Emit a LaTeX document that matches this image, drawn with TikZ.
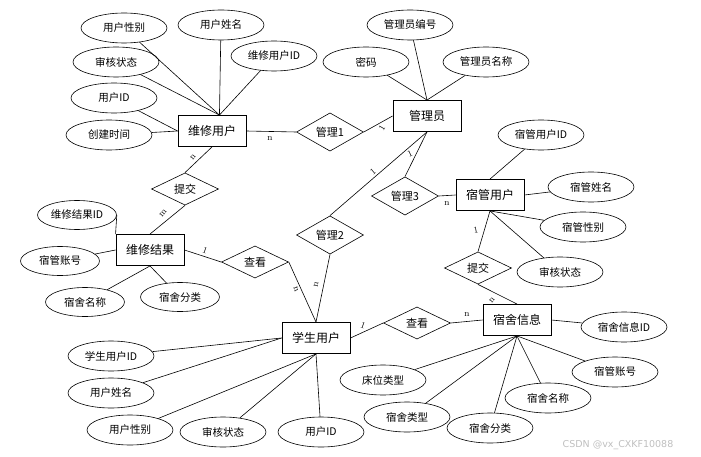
\documentclass[tikz,border=0pt]{standalone}
\usepackage{fontspec}
\newfontfamily\cjk{Noto Sans CJK SC}
\usetikzlibrary{positioning}
\usetikzlibrary{shapes.geometric}

\begin{document}
\begin{tikzpicture}[
x=1pt, y=-1pt,
every node/.style={font=\cjk\fontsize{10.5}{12}\selectfont},
entitynode/.style={rectangle, draw, line width=0.9pt, minimum width=68pt, minimum height=31pt, font=\cjk\fontsize{12}{14}\selectfont},
attrnode/.style={ellipse, draw, line width=0.6pt, minimum width=86pt, minimum height=30pt, inner sep=0pt},
smallattr/.style={attrnode, minimum width=79pt, minimum height=29pt},
relnode/.style={diamond, draw, line width=0.6pt, minimum width=67pt, minimum height=30pt, inner sep=0pt, font=\cjk\fontsize{11}{13}\selectfont},
cardlabel/.style={font=\fontsize{9}{10}\selectfont, inner sep=1pt},
every path/.style={line width=0.6pt},
]
\useasboundingbox (0,0) rectangle (701,457);

%Entities
\node[entitynode] (wxyh) at (212,131) {维修用户};
\node[entitynode] (gly)  at (427,116) {管理员};
\node[entitynode] (sgyh) at (490,195) {宿管用户};
\node[entitynode] (wxjg) at (150,250) {维修结果};
\node[entitynode] (xsyh) at (316,338) {学生用户};
\node[entitynode] (ssxx) at (517,320) {宿舍信息};

%Relations
\node[relnode] (gl1) at (330,132) {管理1};
\node[relnode] (gl2) at (330,235) {管理2};
\node[relnode] (gl3) at (405,196) {管理3};
\node[relnode] (tj1) at (185,189) {提交};
\node[relnode] (tj2) at (478,268) {提交};
\node[relnode] (ck1) at (255,262) {查看};
\node[relnode] (ck2) at (417,323) {查看};

%Attributes
\node[attrnode] (a1) at (124,28)  {用户性别};
\node[attrnode] (a2) at (221,25)  {用户姓名};
\node[attrnode] (a3) at (274,56)  {维修用户ID};
\node[attrnode] (a4) at (116,62)  {审核状态};
\node[attrnode] (a5) at (114,98)  {用户ID};
\node[attrnode] (a6) at (109,135) {创建时间};
\node[attrnode] (b1) at (410,25)  {管理员编号};
\node[attrnode] (b2) at (366,62)  {密码};
\node[attrnode] (b3) at (486,62)  {管理员名称};
\node[attrnode] (c1) at (541,135) {宿管用户ID};
\node[attrnode] (c2) at (591,187) {宿管姓名};
\node[attrnode] (c3) at (583,227) {宿管性别};
\node[attrnode] (c4) at (560,272) {审核状态};
\node[smallattr] (d1) at (77,215)  {维修结果ID};
\node[smallattr] (d2) at (60,261)  {宿管账号};
\node[smallattr] (d3) at (85,302)  {宿舍名称};
\node[smallattr] (d4) at (180,297) {宿舍分类};
\node[attrnode] (e1) at (111,356) {学生用户ID};
\node[attrnode] (e2) at (111,393) {用户姓名};
\node[attrnode] (e3) at (130,430) {用户性别};
\node[attrnode] (e4) at (223,432) {审核状态};
\node[attrnode] (e5) at (321,432) {用户ID};
\node[attrnode] (f1) at (624,327) {宿舍信息ID};
\node[attrnode] (f2) at (615,372) {宿管账号};
\node[attrnode] (f3) at (548,398) {宿舍名称};
\node[attrnode] (f4) at (490,428) {宿舍分类};
\node[attrnode] (f5) at (407,417) {宿舍类型};
\node[attrnode] (f6) at (383,380) {床位类型};

%Lines
\draw (a1) -- (wxyh.65);
\draw (a2) -- (wxyh.65);
\draw (a3) -- (wxyh.65);
\draw (a4) -- (wxyh.65);
\draw (a5) -- (wxyh.west);
\draw (a6) -- (wxyh.west);
\draw (b1) -- (gly.north);
\draw (b2) -- (gly.north);
\draw (b3) -- (gly.north);
\draw (c1) -- (sgyh.north);
\draw (c2) -- (sgyh.east);
\draw (c3) -- (sgyh.south);
\draw (c4) -- (sgyh.south);
\draw (d1.east) -- (wxjg.north west);
\draw (d2) -- (wxjg.west);
\draw (d3) -- (wxjg.south);
\draw (d4) -- (wxjg.south);
\draw (e1) -- (xsyh.west);
\draw (e2) -- (xsyh.west);
\draw (e3) -- (xsyh.south);
\draw (e4) -- (xsyh.south);
\draw (e5) -- (xsyh.south);
\draw (f1) -- (ssxx.east);
\foreach \f in {f2,f3,f4,f5,f6}
  \draw (\f) -- (ssxx.south);

\draw (wxyh.east) -- (gl1.west);
\draw (gl1.east) -- (gly.west);
\draw (gly.south) -- (gl3.north);
\draw (gly.south) -- (gl2.north);
\draw (gl3.east) -- (sgyh.west);
\draw (wxyh.south) -- (tj1.north);
\draw (tj1.south) -- (wxjg.north);
\draw (wxjg.east) -- (ck1.west);
\draw (ck1.east) -- (xsyh.north);
\draw (gl2.south) -- (xsyh.north);
\draw (xsyh.east) -- (ck2.west);
\draw (ck2.east) -- (ssxx.west);
\draw (sgyh.south) -- (tj2.north);
\draw (tj2.south) -- (ssxx.north);

%Labels
\node[cardlabel] (n1)  at (270,139) {n};
\node[cardlabel, rotate=60] (o1) at (382,128) {1};
\node[cardlabel, rotate=25] (o2) at (410,154) {1};
\node[cardlabel, rotate=40] (o3) at (373,172) {1};
\node[cardlabel] (n2)  at (447,204) {n};
\node[cardlabel, rotate=50] (n3) at (193,157) {n};
\node[cardlabel, rotate=50] (m1) at (163,213) {m};
\node[cardlabel, rotate=-20] (o4) at (205,250) {1};
\node[cardlabel, rotate=-70] (n4) at (296,289) {n};
\node[cardlabel, rotate=80] (n5) at (316,285) {n};
\node[cardlabel, rotate=-20] (o5) at (363,325) {1};
\node[cardlabel] (n6)  at (467,315) {n};
\node[cardlabel, rotate=10] (o6) at (476,230) {1};
\node[cardlabel, rotate=50] (n7) at (492,300) {n};

%Watermark
\node[text=black!25, font=\fontspec{DejaVu Sans}\fontsize{9.5}{11}\selectfont] (wm) at (618,445) {CSDN @vx\_CXKF10088};
\end{tikzpicture}
\end{document}
